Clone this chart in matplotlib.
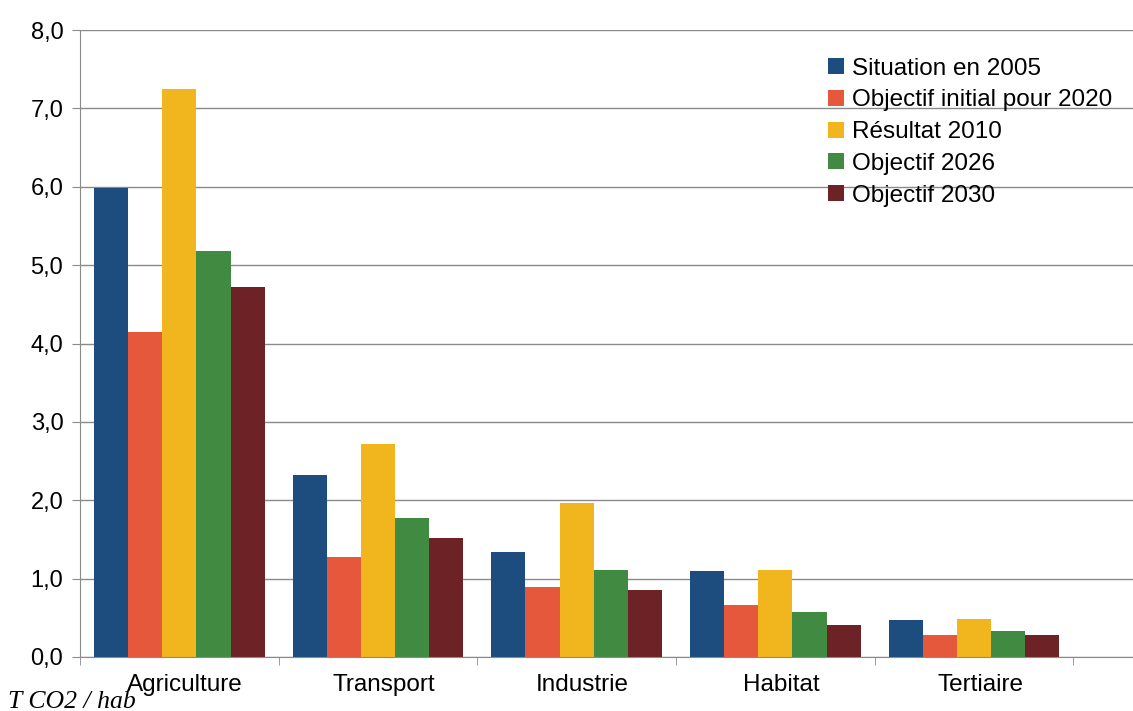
import numpy as np
import matplotlib.pyplot as plt

# Data (T CO2 / hab)
categories = ["Agriculture", "Transport", "Industrie", "Habitat", "Tertiaire"]
series_names = ["Situation en 2005", "Objectif initial pour 2020", "Résultat 2010",
                "Objectif 2026", "Objectif 2030"]
situation_2005 = [5.98, 2.32, 1.34, 1.10, 0.47]
objectif_2020 = [4.15, 1.28, 0.89, 0.66, 0.28]
resultat_2010 = [7.25, 2.72, 1.96, 1.11, 0.48]
objectif_2026 = [5.18, 1.77, 1.11, 0.57, 0.33]
objectif_2030 = [4.72, 1.52, 0.85, 0.41, 0.28]
colors = ["#1d4d7e", "#e5583b", "#f1b61e", "#418a41", "#6d2326"]

series = [situation_2005, objectif_2020, resultat_2010, objectif_2026, objectif_2030]

plt.rcParams['font.family'] = ['Liberation Sans', 'DejaVu Sans']

fig = plt.figure(figsize=(11.33, 7.11), dpi=100)
ax = fig.add_axes([80 / 1133, 1 - 657 / 711, 1 - 80 / 1133, (657 - 30) / 711])

x = np.arange(len(categories))
bw = 0.172
for i, (vals, name, c) in enumerate(zip(series, series_names, colors)):
    ax.bar(x + (i - 2) * bw, vals, width=bw, color=c, label=name, zorder=2)

ax.set_ylim(0, 8)
ax.set_xlim(-0.5, 4.8)
ax.set_yticks(np.arange(0, 8.1, 1.0))
ax.set_yticklabels([f"{v:.1f}".replace(".", ",") for v in np.arange(0, 8.1, 1.0)],
                   fontsize=17)
ax.yaxis.grid(True, color="#8a8a8a", linewidth=1.0, zorder=0)
ax.set_axisbelow(True)

# category labels centred, tick marks at boundaries
ax.set_xticks(x + 0.03)
ax.set_xticklabels(categories, fontsize=17.5)
ax.tick_params(axis="x", length=0, pad=12)
ax.set_xticks(np.arange(-0.5, 5.0, 1.0), minor=True)
ax.tick_params(axis="x", which="minor", length=6, color="#8a8a8a")
ax.tick_params(axis="y", length=6, color="#8a8a8a", pad=6)

for s in ["top", "right"]:
    ax.spines[s].set_visible(False)
for s in ["left", "bottom"]:
    ax.spines[s].set_color("#8a8a8a")

fig.text(8 / 1133, 1 - 708 / 711, "T CO2 / hab", fontsize=18.5, style="italic",
         family=["Liberation Serif", "DejaVu Serif"], va="baseline")

ax.legend(loc="upper left", bbox_to_anchor=(818 / 1133, 1 - 48 / 711),
          bbox_transform=fig.transFigure, frameon=False, fontsize=17.5,
          handlelength=0.65, handleheight=0.65, handletextpad=0.35,
          labelspacing=0.4, borderaxespad=0)

fig.savefig("out.png", dpi=100)
